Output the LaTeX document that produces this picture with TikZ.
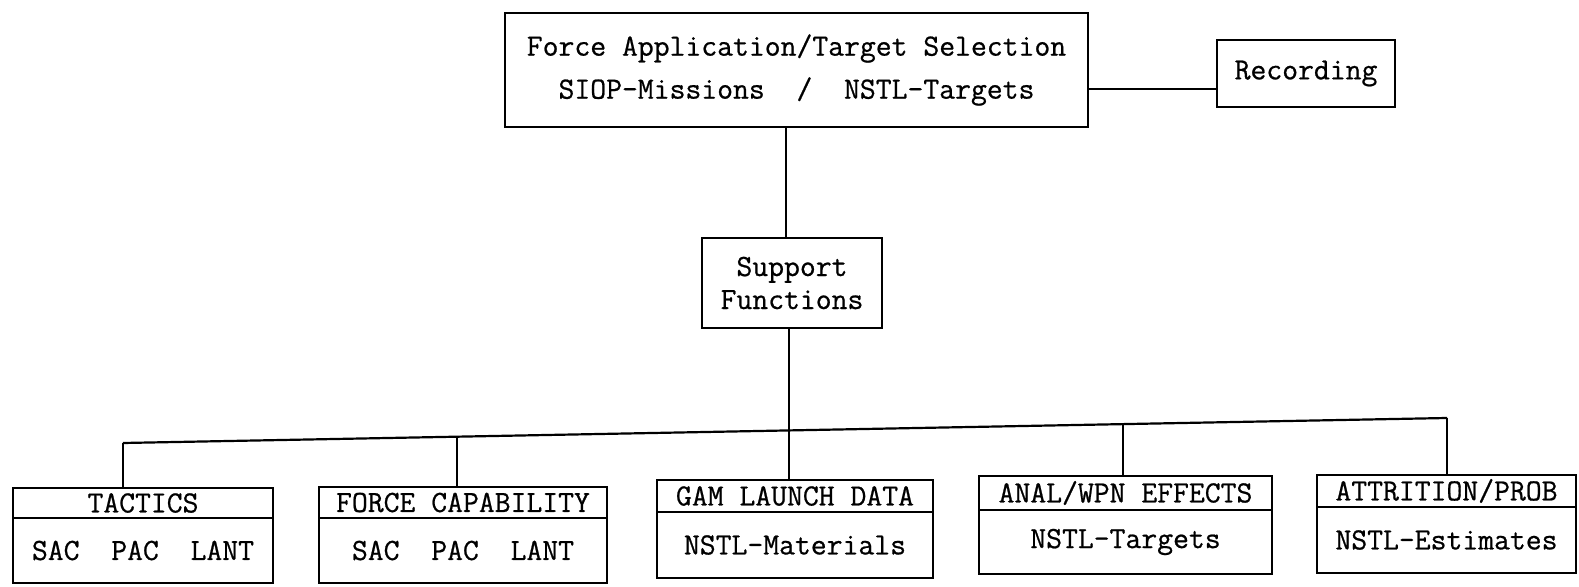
\documentclass[tikz,border=0pt]{standalone}
\usepackage{fontspec}
\newfontfamily\twfont{Latin Modern Mono}[FakeBold=0.7]
\begin{document}
\begin{tikzpicture}[x=0.5pt,y=-0.5pt,
  line width=1.1pt,
  box/.style={draw, inner sep=0pt, align=center, font=\twfont\fontsize{15.4}{21.5}\selectfont},
  hdr/.style={draw, inner sep=0pt, font=\twfont\fontsize{15.4}{18}\selectfont},
  bdy/.style={draw, inner sep=0pt, font=\twfont\fontsize{15.4}{18}\selectfont},
  wire/.style={line width=1.1pt}]
\useasboundingbox (0,0) rectangle (1579,587);

% top level
\node[box, minimum width=291.5pt, minimum height=57pt] (top) at (796.5,70)
  {Force Application/Target Selection\\SIOP-Missions\ \ /\ \ NSTL-Targets};
\node[box, minimum width=89pt, minimum height=33.5pt] (rec) at (1306,73.5) {Recording};
\node[box, minimum width=90pt, minimum height=45pt,
  font=\twfont\fontsize{15.4}{16.5}\selectfont] (sup) at (792,283) {Support\\Functions};

% bottom boxes
\node[hdr, minimum width=130pt, minimum height=15pt] (h1) at (143,503) {TACTICS};
\node[bdy, minimum width=130pt, minimum height=32.5pt] (d1) at (143,550.5) {SAC\ \ PAC\ \ LANT};

\node[hdr, minimum width=144pt, minimum height=15.5pt] (h2) at (463,502.5) {FORCE CAPABILITY};
\node[bdy, minimum width=144pt, minimum height=32.5pt] (d2) at (463,550.5) {SAC\ \ PAC\ \ LANT};

\node[hdr, minimum width=138pt, minimum height=16pt] (h3) at (795,496) {GAM LAUNCH DATA};
\node[bdy, minimum width=138pt, minimum height=33pt] (d3) at (795,545) {NSTL-Materials};

\node[hdr, minimum width=146.5pt, minimum height=17pt] (h4) at (1125.5,493) {ANAL/WPN EFFECTS};
\node[bdy, minimum width=146.5pt, minimum height=32pt] (d4) at (1125.5,542) {NSTL-Targets};

\node[hdr, minimum width=129.5pt, minimum height=16pt] (h5) at (1446.5,491) {ATTRITION/PROB};
\node[bdy, minimum width=129.5pt, minimum height=33pt] (d5) at (1446.5,540) {NSTL-Estimates};

% connector points
\coordinate (vt) at (786,0);
\coordinate (hr) at (0,89);
\coordinate (b1) at (123,443);
\coordinate (b2) at (457,436.7);
\coordinate (b3) at (789,430.4);
\coordinate (b4) at (1123,424.1);
\coordinate (b5) at (1447,418);

% connectors
\draw[wire] (top.east |- hr) -- (rec.west |- hr);
\draw[wire] (top.south -| vt) -- (sup.north -| vt);
\draw[wire] (sup.south -| b3) -- (h3.north -| b3);
\draw[wire] (b1) -- (b5);
\draw[wire] (b1) -- (h1.north -| b1);
\draw[wire] (b2) -- (h2.north -| b2);
\draw[wire] (b4) -- (h4.north -| b4);
\draw[wire] (b5) -- (h5.north -| b5);
\end{tikzpicture}
\end{document}
